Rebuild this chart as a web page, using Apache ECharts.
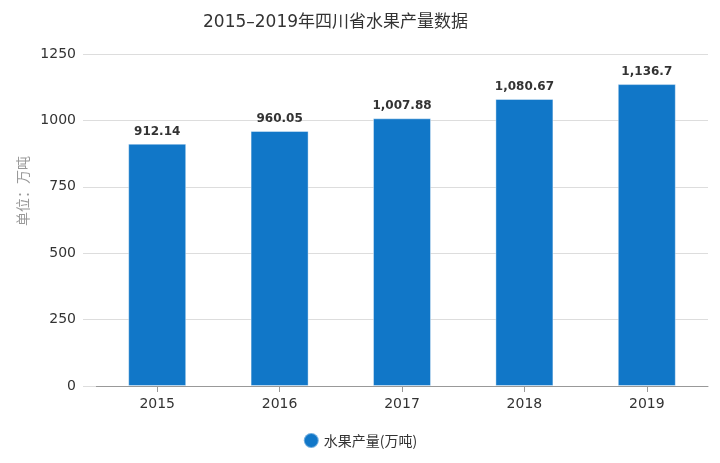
<!DOCTYPE html>
<html>
<head>
<meta charset="utf-8">
<script src="https://cdn.jsdelivr.net/npm/echarts@6/dist/echarts.min.js"></script>
<style>
html,body{margin:0;padding:0;background:#fff;}
#main{width:720px;height:463px;}
</style>
</head>
<body>
<div id="main"></div>
<script>
// 年份
var years = ['2015', '2016', '2017', '2018', '2019'];
// 水果产量(万吨)
var output = [912.14, 960.05, 1007.88, 1080.67, 1136.7];
var labels = ['912.14', '960.05', '1,007.88', '1,080.67', '1,136.7'];

var chart = echarts.init(document.getElementById('main'));
chart.setOption({
    textStyle: {fontFamily: '"DejaVu Sans", "Noto Sans CJK SC", sans-serif'},
    title: {
        text: '2015–2019年四川省水果产量数据',
        left: 198,
        top: 9,
        textStyle: {fontSize: 17, fontWeight: 'normal', color: '#333', fontFamily: '"DejaVu Sans", "Noto Sans CJK SC", sans-serif'}
    },
    legend: {
        data: ['水果产量(万吨)'],
        bottom: 9,
        left: 'center',
        icon: 'circle',
        itemWidth: 15,
        itemHeight: 15,
        itemGap: 8,
        textStyle: {fontSize: 14, color: '#333', fontFamily: '"Noto Sans CJK SC", sans-serif'}
    },
    grid: {left: 96, right: 12, top: 54, bottom: 77},
    xAxis: {
        type: 'category',
        data: years,
        axisLine: {lineStyle: {color: '#999'}},
        axisTick: {show: true, alignWithLabel: true, length: 6, lineStyle: {color: '#999'}},
        axisLabel: {fontSize: 14, color: '#333', margin: 11}
    },
    yAxis: {
        type: 'value',
        min: 0,
        max: 1250,
        interval: 250,
        name: '单位：万吨',
        nameLocation: 'middle',
        nameGap: 55,
        nameTextStyle: {color: '#999', fontSize: 14, fontFamily: '"Noto Sans CJK SC", sans-serif', padding: [0, 0, 0, 58]},
        axisLine: {show: false},
        axisTick: {show: true, length: 13, lineStyle: {color: '#ddd'}},
        splitLine: {lineStyle: {color: '#ddd'}},
        axisLabel: {fontSize: 14, color: '#333', margin: 20, formatter: function (v) { return String(v); }}
    },
    series: [{
        name: '水果产量(万吨)',
        type: 'bar',
        data: output,
        barWidth: 58,
        itemStyle: {color: '#1177c8', borderColor: 'rgba(255,255,255,0.4)', borderWidth: 1},
        label: {
            show: true,
            position: 'top',
            distance: 6,
            fontSize: 12,
            fontWeight: 'bold',
            color: '#333',
            formatter: function (p) { return labels[p.dataIndex]; }
        }
    }]
});
</script>
</body>
</html>
